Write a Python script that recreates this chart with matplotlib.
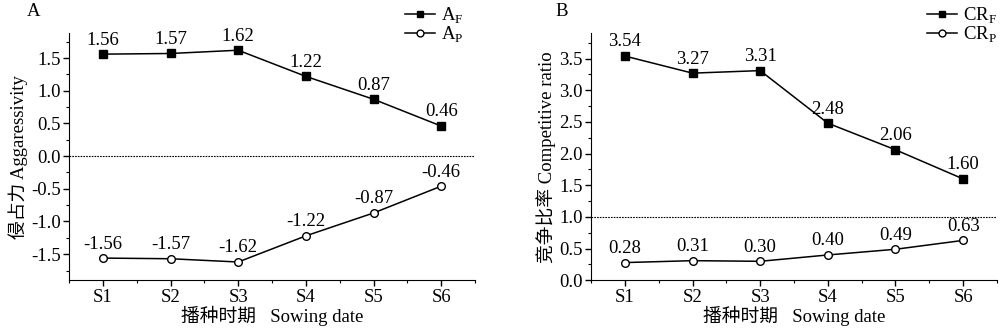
import matplotlib
matplotlib.use("Agg")
import matplotlib.pyplot as plt
from matplotlib.ticker import AutoMinorLocator, MultipleLocator

plt.rcParams['font.family'] = ['Liberation Serif', 'Noto Sans CJK SC']
plt.rcParams['mathtext.fontset'] = 'custom'
plt.rcParams['mathtext.rm'] = 'Liberation Serif'
plt.rcParams['axes.unicode_minus'] = False
plt.rcParams['font.size'] = 13.5

sowing = ['S1', 'S2', 'S3', 'S4', 'S5', 'S6']
a_f = [1.56, 1.57, 1.62, 1.22, 0.87, 0.46]
a_p = [-1.56, -1.57, -1.62, -1.22, -0.87, -0.46]
cr_f = [3.54, 3.27, 3.31, 2.48, 2.06, 1.60]
cr_p = [0.28, 0.31, 0.30, 0.40, 0.49, 0.63]

x = list(range(1, len(sowing) + 1))

fig = plt.figure(figsize=(10, 3.29), dpi=100)
axA = fig.add_axes([0.069, 0.148, 0.406, 0.751])
axB = fig.add_axes([0.591, 0.148, 0.406, 0.751])


def style(ax, ylim, major):
    ax.set_xlim(0.5, 6.5)
    ax.set_ylim(*ylim)
    ax.spines['top'].set_visible(False)
    ax.spines['right'].set_visible(False)
    ax.set_xticks(x)
    ax.set_xticklabels(sowing)
    ax.xaxis.set_minor_locator(MultipleLocator(0.5))
    ax.yaxis.set_major_locator(MultipleLocator(major))
    ax.yaxis.set_minor_locator(AutoMinorLocator(2))
    ax.tick_params(which='major', length=4, width=1, direction='out', pad=2)
    ax.tick_params(which='minor', length=2.5, width=0.8, direction='out')
    ax.set_xlabel('播种时期   Sowing date', labelpad=0)


def draw(ax, yf, yp, lf, lp, fmt):
    ax.plot(x, yf, color='black', lw=1.1, marker='s', ms=5.5,
            mfc='black', mec='black', label=lf)
    ax.plot(x, yp, color='black', lw=1.1, marker='o', ms=5.5,
            mfc='white', mec='black', mew=1, label=lp)
    for xi, v in zip(x, yf):
        ax.annotate(fmt % v, (xi, v), xytext=(0, 4), textcoords='offset points',
                    ha='center', va='bottom')
    for xi, v in zip(x, yp):
        ax.annotate(fmt % v, (xi, v), xytext=(0, 4), textcoords='offset points',
                    ha='center', va='bottom')


def legend(ax, x0):
    h, l = ax.get_legend_handles_labels()
    fig.legend(h, l, loc='upper left', bbox_to_anchor=(x0, 0.982),
               frameon=False, handlelength=1.6, handletextpad=0.3,
               labelspacing=-0.1, borderaxespad=0, borderpad=0,
               markerscale=0.9, fontsize=13.5)


# panel A
draw(axA, a_f, a_p, r'A$_\mathrm{F}$', r'A$_\mathrm{P}$', '%.2f')
axA.axhline(0, color='black', lw=0.8, ls=(0, (1.5, 1)))
style(axA, (-1.9, 1.88), 0.5)
axA.set_ylabel('侵占力 Aggaressivity', labelpad=2)
legend(axA, 0.405)
fig.text(0.027, 0.965, 'A', fontsize=13.5, va='center')

# panel B
draw(axB, cr_f, cr_p, r'CR$_\mathrm{F}$', r'CR$_\mathrm{P}$', '%.2f')
axB.axhline(1.0, color='black', lw=0.8, ls=(0, (1.5, 1)))
style(axB, (0, 3.9), 0.5)
axB.set_ylabel('竞争比率 Competitive ratio', labelpad=2)
legend(axB, 0.927)
fig.text(0.555, 0.965, 'B', fontsize=13.5, va='center')

fig.savefig('out.png', dpi=100)
